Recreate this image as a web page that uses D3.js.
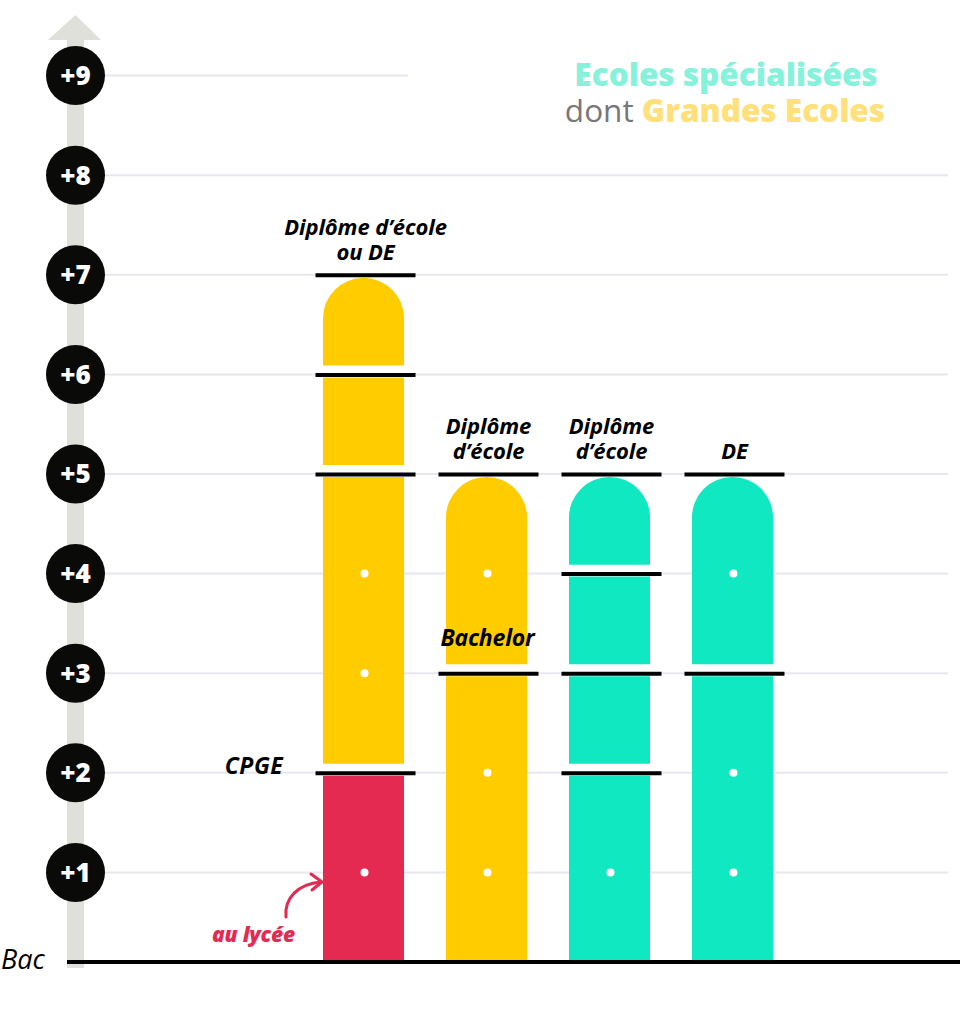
<!DOCTYPE html>
<html><head><meta charset="utf-8">
<script src="https://cdn.jsdelivr.net/npm/d3@7/dist/d3.min.js"></script>
<style>html,body{margin:0;padding:0;background:#fff;}svg{display:block;}text{font-family:"Open Sans","Noto Sans",sans-serif;}</style>
</head><body>
<svg id="c" width="960" height="1011"></svg>
<script>
// ---- data ----
const years = [1,2,3,4,5,6,7,8,9];
const yearLabels = ["+1","+2","+3","+4","+5","+6","+7","+8","+9"];
const bars = ["ge_cpge","ge_bachelor","es_ecole","es_de"];
const barBounds = [[0,2,5,6,7],[0,3,5],[0,2,3,4,5],[0,3,5]];
const barColors = [["lycee","ge","ge","ge"],["ge","ge"],["es","es","es","es"],["es","es"]];
const barDots = [[1,3,4],[1,2,4],[1],[1,2,4]];
const topLabels = [["Diplôme d’école","ou DE"],["Diplôme","d’école"],["Diplôme","d’école"],["DE"]];
const innerLabels = [{bar:1, year:3, text:"Bachelor"}];
const sideLabels = [{year:2, text:"CPGE"}];
const baseValue = 0.1;
const palette = {lycee:"#e52a52", ge:"#ffcc00", es:"#0fe8c0"};

const svg = d3.select("#c");
const y = d3.scaleLinear().domain([0,9]).range([972,75.6]);
const x = d3.scaleBand().domain(bars).range([323,773]).paddingInner(0.341).paddingOuter(0);
const bw = x.bandwidth();

// gridlines
svg.append("g").selectAll("line").data(years).join("line")
  .attr("x1",105).attr("x2",d=>d===9?408:948)
  .attr("y1",d=>y(d)).attr("y2",d=>y(d))
  .attr("stroke","#e8e7ef").attr("stroke-width",2);

// axis arrow
svg.append("rect").attr("x",67).attr("width",17).attr("y",38).attr("height",y(0)-4-38).attr("fill","#e0e0da");
svg.append("path").attr("d","M48,40 L101,40 L75.5,15 Z").attr("fill","#e0e0da");

// year circles
const yc = svg.append("g").selectAll("g").data(years).join("g")
  .attr("transform",d=>`translate(75.5,${y(d)})`);
yc.append("circle").attr("r",29.5).attr("fill","#0a0b09");
yc.append("text").attr("text-anchor","middle").attr("dy","0.36em")
  .attr("fill","#fff").attr("font-weight",800).attr("font-size",26)
  .text((d,i)=>yearLabels[i]);

// bars
const gap = 0.09, topInset = 0.03;
bars.forEach((b,bi)=>{
  const bounds = barBounds[bi];
  const x0 = x(b), x1 = x0+bw, cx = x0+bw/2, r = bw/2;
  const g = svg.append("g");
  for(let s=0;s<bounds.length-1;s++){
    const from = s===0 ? baseValue : bounds[s]+gap;
    const to = bounds[s+1]-topInset;
    const yb = y(from), yt = y(to);
    const isTop = s===bounds.length-2;
    let d;
    if(isTop){
      d = `M${x0},${yb} L${x0},${yt+r} A${r},${r} 0 0 1 ${x1},${yt+r} L${x1},${yb} Z`;
    } else {
      d = `M${x0},${yb} L${x0},${yt} L${x1},${yt} L${x1},${yb} Z`;
    }
    g.append("path").attr("d",d).attr("fill",palette[barColors[bi][s]]);
  }
  // boundary lines
  g.selectAll("line").data(bounds.slice(1)).join("line")
    .attr("x1",cx-48).attr("x2",cx+52)
    .attr("y1",d=>y(d)+0.5).attr("y2",d=>y(d)+0.5)
    .attr("stroke","#000").attr("stroke-width",4);
  // dots
  g.selectAll("circle").data(barDots[bi]).join("circle")
    .attr("cx",cx+1).attr("cy",d=>y(d)).attr("r",4).attr("fill","#fff");
  // top labels (one text per line)
  const topY = y(bounds[bounds.length-1]);
  const lines = topLabels[bi];
  g.selectAll("text.top").data(lines).join("text").attr("class","top")
    .attr("text-anchor","middle").attr("font-style","italic").attr("font-weight",700)
    .attr("font-size",22).attr("fill","#000").attr("letter-spacing",-0.1)
    .attr("x",cx+2).attr("y",(d,i)=>topY-15-(lines.length-1-i)*25).text(d=>d);
});

// inner labels
innerLabels.forEach(l=>{
  svg.append("text").attr("x",x(bars[l.bar])+bw/2+1).attr("y",y(l.year)-27)
    .attr("text-anchor","middle").attr("font-style","italic").attr("font-weight",700)
    .attr("font-size",23).attr("fill","#000").attr("letter-spacing",-0.2).text(l.text);
});
sideLabels.forEach(l=>{
  svg.append("text").attr("x",254).attr("y",y(l.year)+1)
    .attr("text-anchor","middle").attr("font-style","italic").attr("font-weight",700)
    .attr("font-size",23).attr("fill","#000").attr("letter-spacing",0.5).text(l.text);
});

// baseline
svg.append("line").attr("x1",67).attr("x2",960).attr("y1",y(baseValue)).attr("y2",y(baseValue))
  .attr("stroke","#000").attr("stroke-width",4);
svg.append("text").attr("x",1).attr("y",y(baseValue)+7).attr("font-style","italic")
  .attr("font-weight",500).attr("font-size",27).attr("fill","#000").text("Bac");

// au lycée annotation
svg.append("text").attr("x",253.5).attr("y",y(baseValue)-20).attr("text-anchor","middle")
  .attr("font-style","italic").attr("font-weight",800).attr("font-size",21).attr("letter-spacing",-0.2)
  .attr("fill",palette.lycee).text("au lycée");
svg.append("path").attr("d","M286,917 C284,898 298,884 321,882")
  .attr("fill","none").attr("stroke",palette.lycee).attr("stroke-width",3).attr("stroke-linecap","round");
svg.append("path").attr("d","M311,874 L322,882 L312,890")
  .attr("fill","none").attr("stroke",palette.lycee).attr("stroke-width",3).attr("stroke-linecap","round").attr("stroke-linejoin","round");

// legend
svg.append("text").attr("x",726).attr("y",86).attr("text-anchor","middle")
  .attr("font-weight",800).attr("font-size",31.5).attr("fill","#86f2dc").text("Ecoles spécialisées");
const l2 = svg.append("text").attr("x",725).attr("y",122).attr("text-anchor","middle").attr("font-size",31.5);
l2.append("tspan").attr("fill","#777").attr("font-weight",400).text("dont ");
l2.append("tspan").attr("fill","#ffe07a").attr("font-weight",800).text("Grandes Ecoles");
</script>
</body></html>
